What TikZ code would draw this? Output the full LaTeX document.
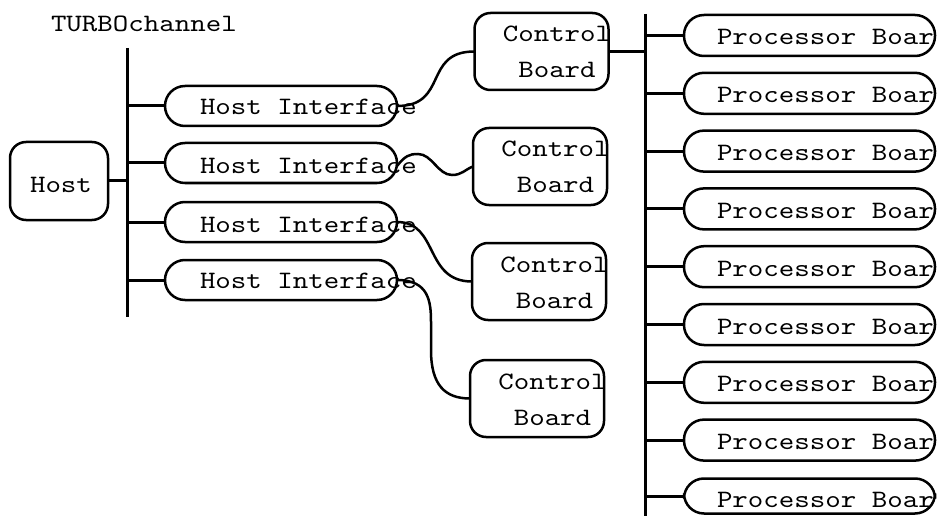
\documentclass[tikz,border=0pt]{standalone}
\usepackage{fontspec}
\newfontfamily\tw{lmmono10-regular.otf}[FakeStretch=1.18]
\begin{document}
\begin{tikzpicture}[x=1pt,y=-1pt,
  every node/.style={inner sep=0pt, outer sep=0pt},
  txt/.style={font=\tw\fontsize{25}{30}\selectfont},
  box/.style={draw, line width=2.5pt},
  hostbox/.style={box, rounded corners=16pt, minimum width=98pt, minimum height=78pt},
  hibox/.style={box, rounded corners=20pt, minimum width=232pt, minimum height=40pt},
  cbbox/.style={box, rounded corners=16pt, minimum width=134pt, minimum height=77pt},
  pbbox/.style={box, rounded corners=20pt, minimum width=251pt, minimum height=41pt},
  bus/.style={line width=3pt},
  wire/.style={line width=2.5pt}]
\clip (0,0) rectangle (940,516);

% TURBOchannel bus and host
\node[txt, anchor=base west] (tclabel) at (51,32) {TURBOchannel};
\coordinate (tctop) at (127,48);
\coordinate (tcbot) at (127,317);
\draw[bus] (tctop) -- (tcbot);
\node[hostbox] (host) at (59,181) {};
\node[txt, anchor=base] (hosttxt) at (61,193) {Host};
\draw[bus] (host.east) -- (host.east -| tctop);

% host interfaces
\foreach \k/\yc/\yb in {1/106/115, 2/163/174, 3/222/232, 4/280/288}{
  \node[hibox] (hi\k) at (281,\yc) {};
  \node[txt, anchor=base west] (hit\k) at (200,\yb) {Host Interface};
  \draw[bus] (hi\k.west -| tctop) -- (hi\k.west);
}

% control boards
\foreach \k/\xc/\yc in {1/541.5/51.5, 2/540/166.5, 3/539/281.5, 4/537/398.5}{
  \node[cbbox] (cb\k) at (\xc,\yc) {};
  \node[txt, anchor=base] (cbta\k) at (\xc+15.5,\yc-9.5) {Control};
  \node[txt, anchor=base] (cbtb\k) at (\xc+15.5,\yc+26.5) {Board};
}

% processor bus and boards
\coordinate (pbtop) at (645,14);
\coordinate (pbbot) at (645,516);
\draw[bus] (pbtop) -- (pbbot);
\draw[bus] (cb1.east) -- (cb1.east -| pbtop);
\foreach \k in {0,...,7}{
  \pgfmathsetmacro\yy{35.5+57.8*\k}
  \node[pbbox] (pb\k) at (809.5,\yy) {};
  \node[txt, anchor=base west] (pbt\k) at (717,\yy+9.5) {Processor Boar};
  \draw[bus] (pb\k.west -| pbtop) -- (pb\k.west);
}
\node[pbbox, minimum height=35pt] (pb8) at (809.5,496) {};
\node[txt, anchor=base west] (pbt8) at (717,507) {Processor Boar};
\draw[bus] (pb8.west -| pbtop) -- (pb8.west);

% links from host interfaces to control boards
\draw[wire] (hi1.east) .. controls +(52,0) and +(-52,0) .. (cb1.west);
\draw[wire] (hi2.east) ++(0,3) coordinate (w2a)
  .. controls +(8,-10) and +(-9,0) .. (418,154)
  .. controls +(14,0) and +(-14,0) .. (452,175)
  .. controls +(10,0) and +(-8,3) .. (cb2.west);
\draw[wire] (hi3.east) .. controls +(42,0) and +(-48,0) .. (cb3.west);
\draw[wire] (hi4.east) .. controls +(32,0) and +(0,-20) .. (431,322)
  -- (431,350) .. controls +(0,35) and +(-25,0) .. (cb4.west);
\end{tikzpicture}
\end{document}
